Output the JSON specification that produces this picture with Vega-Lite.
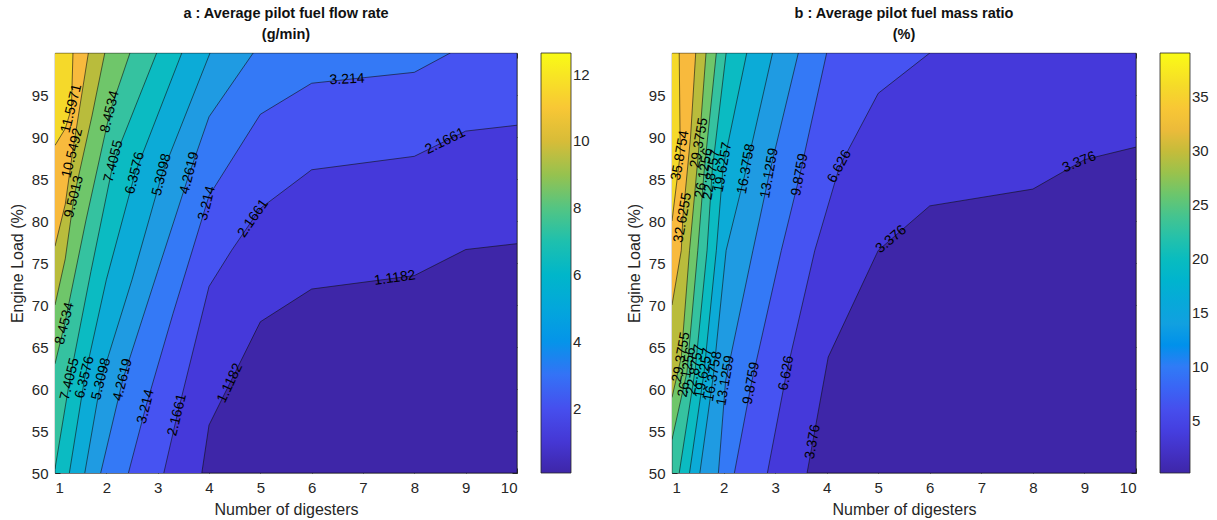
{
  "$schema": "https://vega.github.io/schema/vega-lite/v6.json",
  "background": "white",
  "padding": {"left": 8, "top": 5, "right": 5, "bottom": 5},
  "config": {
    "font": "Liberation Sans",
    "view": {"stroke": "#262626", "strokeWidth": 0.8},
    "axis": {"labelFontSize": 15, "titleFontSize": 16, "titleFontWeight": "normal", "labelColor": "#262626", "titleColor": "#262626", "domain": false, "grid": false, "tickColor": "#262626", "tickSize": -5, "labelPadding": 12, "titlePadding": 6},
    "title": {"fontSize": 14.5, "fontWeight": "bold", "color": "#111111", "anchor": "middle", "frame": "group", "offset": 10, "lineHeight": 21},
    "legend": {"labelFontSize": 15, "labelColor": "#262626", "gradientLength": 420, "gradientThickness": 30, "gradientStrokeColor": "#262626", "gradientStrokeWidth": 0.8, "offset": 23, "labelOffset": 6}
  },
  "spacing": 34,
  "resolve": {"scale": {"color": "independent"}, "legend": {"color": "independent"}},
  "hconcat": [
    {
      "width": 462,
      "height": 420,
      "title": {"text": ["a : Average pilot fuel flow rate", "(g/min)"]},
      "resolve": {"axis": {"x": "independent", "y": "independent"}},
      "layer": [
        {
          "data": {"values": [
            {"lev": 0.0703, "i": 0, "x": 1, "y": 50}, {"lev": 0.0703, "i": 1, "x": 10, "y": 50}, {"lev": 0.0703, "i": 2, "x": 10, "y": 100}, {"lev": 0.0703, "i": 3, "x": 1, "y": 100},
            {"lev": 1.1182, "i": 0, "x": 3.86, "y": 50}, {"lev": 1.1182, "i": 1, "x": 4, "y": 55.7}, {"lev": 1.1182, "i": 2, "x": 5, "y": 68}, {"lev": 1.1182, "i": 3, "x": 6, "y": 71.9}, {"lev": 1.1182, "i": 4, "x": 8, "y": 73.5}, {"lev": 1.1182, "i": 5, "x": 9, "y": 76.6}, {"lev": 1.1182, "i": 6, "x": 10, "y": 77.3}, {"lev": 1.1182, "i": 7, "x": 10, "y": 100}, {"lev": 1.1182, "i": 8, "x": 1, "y": 100}, {"lev": 1.1182, "i": 9, "x": 1, "y": 50},
            {"lev": 2.1661, "i": 0, "x": 3.12, "y": 50}, {"lev": 2.1661, "i": 1, "x": 3.38, "y": 56.9}, {"lev": 2.1661, "i": 2, "x": 4, "y": 72.2}, {"lev": 2.1661, "i": 3, "x": 4.44, "y": 76.5}, {"lev": 2.1661, "i": 4, "x": 5, "y": 81.5}, {"lev": 2.1661, "i": 5, "x": 6, "y": 86.1}, {"lev": 2.1661, "i": 6, "x": 8, "y": 87.7}, {"lev": 2.1661, "i": 7, "x": 9, "y": 90.7}, {"lev": 2.1661, "i": 8, "x": 10, "y": 91.4}, {"lev": 2.1661, "i": 9, "x": 10, "y": 100}, {"lev": 2.1661, "i": 10, "x": 1, "y": 100}, {"lev": 2.1661, "i": 11, "x": 1, "y": 50},
            {"lev": 3.214, "i": 0, "x": 2.43, "y": 50}, {"lev": 3.214, "i": 1, "x": 2.77, "y": 57.9}, {"lev": 3.214, "i": 2, "x": 3.3, "y": 69}, {"lev": 3.214, "i": 3, "x": 4, "y": 83}, {"lev": 3.214, "i": 4, "x": 5, "y": 92.7}, {"lev": 3.214, "i": 5, "x": 6, "y": 96.4}, {"lev": 3.214, "i": 6, "x": 8, "y": 97.7}, {"lev": 3.214, "i": 7, "x": 8.7, "y": 100}, {"lev": 3.214, "i": 8, "x": 1, "y": 100}, {"lev": 3.214, "i": 9, "x": 1, "y": 50},
            {"lev": 4.2619, "i": 0, "x": 1.89, "y": 50}, {"lev": 4.2619, "i": 1, "x": 2.32, "y": 61.1}, {"lev": 4.2619, "i": 2, "x": 3.0, "y": 74}, {"lev": 4.2619, "i": 3, "x": 3.62, "y": 85.7}, {"lev": 4.2619, "i": 4, "x": 4, "y": 92.4}, {"lev": 4.2619, "i": 5, "x": 4.86, "y": 100}, {"lev": 4.2619, "i": 6, "x": 1, "y": 100}, {"lev": 4.2619, "i": 7, "x": 1, "y": 50},
            {"lev": 5.3098, "i": 0, "x": 1.58, "y": 50}, {"lev": 5.3098, "i": 1, "x": 1.9, "y": 61.2}, {"lev": 5.3098, "i": 2, "x": 2.5, "y": 73}, {"lev": 5.3098, "i": 3, "x": 3.08, "y": 85.5}, {"lev": 5.3098, "i": 4, "x": 4.02, "y": 100}, {"lev": 5.3098, "i": 5, "x": 1, "y": 100}, {"lev": 5.3098, "i": 6, "x": 1, "y": 50},
            {"lev": 6.3576, "i": 0, "x": 1.28, "y": 50}, {"lev": 6.3576, "i": 1, "x": 1.58, "y": 61.4}, {"lev": 6.3576, "i": 2, "x": 2.0, "y": 73}, {"lev": 6.3576, "i": 3, "x": 2.56, "y": 85.7}, {"lev": 6.3576, "i": 4, "x": 3.47, "y": 100}, {"lev": 6.3576, "i": 5, "x": 1, "y": 100}, {"lev": 6.3576, "i": 6, "x": 1, "y": 50},
            {"lev": 7.4055, "i": 0, "x": 1, "y": 50.5}, {"lev": 7.4055, "i": 1, "x": 1.29, "y": 61.2}, {"lev": 7.4055, "i": 2, "x": 1.7, "y": 74}, {"lev": 7.4055, "i": 3, "x": 2.14, "y": 87.1}, {"lev": 7.4055, "i": 4, "x": 2.98, "y": 100}, {"lev": 7.4055, "i": 5, "x": 1, "y": 100},
            {"lev": 8.4534, "i": 0, "x": 1, "y": 63}, {"lev": 8.4534, "i": 1, "x": 1.19, "y": 67.8}, {"lev": 8.4534, "i": 2, "x": 1.6, "y": 80}, {"lev": 8.4534, "i": 3, "x": 2.07, "y": 93}, {"lev": 8.4534, "i": 4, "x": 2.46, "y": 100}, {"lev": 8.4534, "i": 5, "x": 1, "y": 100},
            {"lev": 9.5013, "i": 0, "x": 1, "y": 70}, {"lev": 9.5013, "i": 1, "x": 1.2, "y": 75.5}, {"lev": 9.5013, "i": 2, "x": 1.37, "y": 82.9}, {"lev": 9.5013, "i": 3, "x": 1.72, "y": 92.5}, {"lev": 9.5013, "i": 4, "x": 1.97, "y": 100}, {"lev": 9.5013, "i": 5, "x": 1, "y": 100},
            {"lev": 10.5492, "i": 0, "x": 1, "y": 77}, {"lev": 10.5492, "i": 1, "x": 1.2, "y": 82}, {"lev": 10.5492, "i": 2, "x": 1.34, "y": 88.1}, {"lev": 10.5492, "i": 3, "x": 1.65, "y": 100}, {"lev": 10.5492, "i": 4, "x": 1, "y": 100},
            {"lev": 11.5971, "i": 0, "x": 1, "y": 89}, {"lev": 11.5971, "i": 1, "x": 1.2, "y": 91}, {"lev": 11.5971, "i": 2, "x": 1.32, "y": 93.4}, {"lev": 11.5971, "i": 3, "x": 1.35, "y": 100}, {"lev": 11.5971, "i": 4, "x": 1, "y": 100}
          ]},
          "mark": {"type": "line", "filled": true, "stroke": "#111111", "strokeWidth": 0.6, "clip": true},
          "encoding": {
            "x": {"field": "x", "type": "quantitative", "scale": {"domain": [1, 10], "nice": false, "zero": false}, "axis": {"values": [1, 2, 3, 4, 5, 6, 7, 8, 9, 10], "title": "Number of digesters"}},
            "y": {"field": "y", "type": "quantitative", "scale": {"domain": [50, 100], "nice": false, "zero": false}, "axis": {"values": [50, 55, 60, 65, 70, 75, 80, 85, 90, 95], "title": "Engine Load (%)"}},
            "order": {"field": "i", "type": "quantitative"},
            "color": {"field": "lev", "type": "quantitative",
              "scale": {"type": "linear", "nice": false, "zero": false,
                "domain": [0.0703, 1.1182, 2.1661, 3.214, 4.2619, 5.3098, 6.3576, 7.4055, 8.4534, 9.5013, 10.5492, 11.5971, 12.645],
                "range": ["#3e26a8", "#4539da", "#4653f2", "#3479f6", "#1f9be2", "#0cabd7", "#0bbbc2", "#35c2a0", "#6fc66a", "#b9bc3c", "#f8ba3d", "#f5d92a", "#f9fb15"]},
              "legend": {"values": [2, 4, 6, 8, 10, 12], "title": null}}
          }
        },
        {
          "data": {"values": [
            {"t": "11.5971", "x": 1.32, "y": 93.4}, {"t": "10.5492", "x": 1.34, "y": 88.1}, {"t": "9.5013", "x": 1.37, "y": 82.9},
            {"t": "8.4534", "x": 2.07, "y": 93}, {"t": "7.4055", "x": 2.14, "y": 87.1}, {"t": "6.3576", "x": 2.56, "y": 85.7}, {"t": "5.3098", "x": 3.08, "y": 85.5}, {"t": "4.2619", "x": 3.62, "y": 85.7}, {"t": "3.214", "x": 3.96, "y": 82.1},
            {"t": "8.4534", "x": 1.19, "y": 67.8}, {"t": "7.4055", "x": 1.29, "y": 61.2}, {"t": "6.3576", "x": 1.58, "y": 61.4}, {"t": "5.3098", "x": 1.9, "y": 61.2}, {"t": "4.2619", "x": 2.32, "y": 61.1}, {"t": "3.214", "x": 2.77, "y": 57.9}, {"t": "2.1661", "x": 3.38, "y": 56.9}
          ]},
          "mark": {"type": "text", "angle": -76, "fontSize": 14, "color": "#000000"},
          "encoding": {
            "x": {"field": "x", "type": "quantitative", "axis": {"orient": "top", "labels": false, "title": null, "values": [1, 2, 3, 4, 5, 6, 7, 8, 9, 10]}},
            "y": {"field": "y", "type": "quantitative", "axis": {"orient": "right", "labels": false, "title": null, "values": [50, 55, 60, 65, 70, 75, 80, 85, 90, 95]}},
            "text": {"field": "t"}}
        },
        {
          "data": {"values": [{"t": "2.1661", "x": 4.86, "y": 80.3}]},
          "mark": {"type": "text", "angle": -55, "fontSize": 14, "color": "#000000"},
          "encoding": {"x": {"field": "x", "type": "quantitative", "axis": null}, "y": {"field": "y", "type": "quantitative", "axis": null}, "text": {"field": "t"}}
        },
        {
          "data": {"values": [{"t": "1.1182", "x": 4.41, "y": 60.7}]},
          "mark": {"type": "text", "angle": -65, "fontSize": 14, "color": "#000000"},
          "encoding": {"x": {"field": "x", "type": "quantitative", "axis": null}, "y": {"field": "y", "type": "quantitative", "axis": null}, "text": {"field": "t"}}
        },
        {
          "data": {"values": [{"t": "3.214", "x": 6.69, "y": 96.85}]},
          "mark": {"type": "text", "angle": -3, "fontSize": 14, "color": "#000000"},
          "encoding": {"x": {"field": "x", "type": "quantitative", "axis": null}, "y": {"field": "y", "type": "quantitative", "axis": null}, "text": {"field": "t"}}
        },
        {
          "data": {"values": [{"t": "2.1661", "x": 8.6, "y": 89.5}]},
          "mark": {"type": "text", "angle": -26, "fontSize": 14, "color": "#000000"},
          "encoding": {"x": {"field": "x", "type": "quantitative", "axis": null}, "y": {"field": "y", "type": "quantitative", "axis": null}, "text": {"field": "t"}}
        },
        {
          "data": {"values": [{"t": "1.1182", "x": 7.62, "y": 73.2}]},
          "mark": {"type": "text", "angle": -8, "fontSize": 14, "color": "#000000"},
          "encoding": {"x": {"field": "x", "type": "quantitative", "axis": null}, "y": {"field": "y", "type": "quantitative", "axis": null}, "text": {"field": "t"}}
        }
      ]
    },
    {
      "width": 464,
      "height": 420,
      "title": {"text": ["b : Average pilot fuel mass ratio", "(%)"]},
      "resolve": {"axis": {"x": "independent", "y": "independent"}},
      "layer": [
        {
          "data": {"values": [
            {"lev": 0.126, "i": 0, "x": 1, "y": 50}, {"lev": 0.126, "i": 1, "x": 10, "y": 50}, {"lev": 0.126, "i": 2, "x": 10, "y": 100}, {"lev": 0.126, "i": 3, "x": 1, "y": 100},
            {"lev": 3.376, "i": 0, "x": 3.62, "y": 50}, {"lev": 3.376, "i": 1, "x": 4.03, "y": 63.8}, {"lev": 3.376, "i": 2, "x": 5, "y": 76.5}, {"lev": 3.376, "i": 3, "x": 6, "y": 81.8}, {"lev": 3.376, "i": 4, "x": 8, "y": 83.8}, {"lev": 3.376, "i": 5, "x": 9, "y": 87.3}, {"lev": 3.376, "i": 6, "x": 10, "y": 88.8}, {"lev": 3.376, "i": 7, "x": 10, "y": 100}, {"lev": 3.376, "i": 8, "x": 1, "y": 100}, {"lev": 3.376, "i": 9, "x": 1, "y": 50},
            {"lev": 6.626, "i": 0, "x": 2.85, "y": 50}, {"lev": 6.626, "i": 1, "x": 3.22, "y": 61.9}, {"lev": 6.626, "i": 2, "x": 3.77, "y": 76.5}, {"lev": 6.626, "i": 3, "x": 4.25, "y": 86.5}, {"lev": 6.626, "i": 4, "x": 5, "y": 95.2}, {"lev": 6.626, "i": 5, "x": 6, "y": 100}, {"lev": 6.626, "i": 6, "x": 1, "y": 100}, {"lev": 6.626, "i": 7, "x": 1, "y": 50},
            {"lev": 9.8759, "i": 0, "x": 2.21, "y": 50}, {"lev": 9.8759, "i": 1, "x": 2.54, "y": 60.7}, {"lev": 9.8759, "i": 2, "x": 3.12, "y": 76.5}, {"lev": 9.8759, "i": 3, "x": 3.48, "y": 85.5}, {"lev": 9.8759, "i": 4, "x": 4.0, "y": 100}, {"lev": 9.8759, "i": 5, "x": 1, "y": 100}, {"lev": 9.8759, "i": 6, "x": 1, "y": 50},
            {"lev": 13.1259, "i": 0, "x": 1.9, "y": 50}, {"lev": 13.1259, "i": 1, "x": 2.04, "y": 61}, {"lev": 13.1259, "i": 2, "x": 2.57, "y": 76.5}, {"lev": 13.1259, "i": 3, "x": 2.89, "y": 85.7}, {"lev": 13.1259, "i": 4, "x": 3.45, "y": 100}, {"lev": 13.1259, "i": 5, "x": 1, "y": 100}, {"lev": 13.1259, "i": 6, "x": 1, "y": 50},
            {"lev": 16.3758, "i": 0, "x": 1.54, "y": 50}, {"lev": 16.3758, "i": 1, "x": 1.8, "y": 61.5}, {"lev": 16.3758, "i": 2, "x": 2.05, "y": 76.5}, {"lev": 16.3758, "i": 3, "x": 2.44, "y": 86.2}, {"lev": 16.3758, "i": 4, "x": 2.95, "y": 100}, {"lev": 16.3758, "i": 5, "x": 1, "y": 100}, {"lev": 16.3758, "i": 6, "x": 1, "y": 50},
            {"lev": 19.6257, "i": 0, "x": 1.34, "y": 50}, {"lev": 19.6257, "i": 1, "x": 1.62, "y": 61.9}, {"lev": 19.6257, "i": 2, "x": 1.86, "y": 76.5}, {"lev": 19.6257, "i": 3, "x": 1.99, "y": 86.4}, {"lev": 19.6257, "i": 4, "x": 2.45, "y": 100}, {"lev": 19.6257, "i": 5, "x": 1, "y": 100}, {"lev": 19.6257, "i": 6, "x": 1, "y": 50},
            {"lev": 22.8757, "i": 0, "x": 1.14, "y": 50}, {"lev": 22.8757, "i": 1, "x": 1.45, "y": 62.3}, {"lev": 22.8757, "i": 2, "x": 1.68, "y": 76.5}, {"lev": 22.8757, "i": 3, "x": 1.78, "y": 86}, {"lev": 22.8757, "i": 4, "x": 2.05, "y": 100}, {"lev": 22.8757, "i": 5, "x": 1, "y": 100}, {"lev": 22.8757, "i": 6, "x": 1, "y": 50},
            {"lev": 26.1256, "i": 0, "x": 1, "y": 54}, {"lev": 26.1256, "i": 1, "x": 1.29, "y": 62}, {"lev": 26.1256, "i": 2, "x": 1.5, "y": 76.5}, {"lev": 26.1256, "i": 3, "x": 1.62, "y": 85.7}, {"lev": 26.1256, "i": 4, "x": 1.86, "y": 100}, {"lev": 26.1256, "i": 5, "x": 1, "y": 100},
            {"lev": 29.3755, "i": 0, "x": 1, "y": 59}, {"lev": 29.3755, "i": 1, "x": 1.18, "y": 63.8}, {"lev": 29.3755, "i": 2, "x": 1.34, "y": 76.5}, {"lev": 29.3755, "i": 3, "x": 1.53, "y": 89.3}, {"lev": 29.3755, "i": 4, "x": 1.66, "y": 100}, {"lev": 29.3755, "i": 5, "x": 1, "y": 100},
            {"lev": 32.6255, "i": 0, "x": 1, "y": 70}, {"lev": 32.6255, "i": 1, "x": 1.18, "y": 76.5}, {"lev": 32.6255, "i": 2, "x": 1.21, "y": 80.4}, {"lev": 32.6255, "i": 3, "x": 1.36, "y": 90}, {"lev": 32.6255, "i": 4, "x": 1.46, "y": 100}, {"lev": 32.6255, "i": 5, "x": 1, "y": 100},
            {"lev": 35.8754, "i": 0, "x": 1, "y": 80}, {"lev": 35.8754, "i": 1, "x": 1.1, "y": 85}, {"lev": 35.8754, "i": 2, "x": 1.16, "y": 88}, {"lev": 35.8754, "i": 3, "x": 1.14, "y": 100}, {"lev": 35.8754, "i": 4, "x": 1, "y": 100}
          ]},
          "mark": {"type": "line", "filled": true, "stroke": "#111111", "strokeWidth": 0.6, "clip": true},
          "encoding": {
            "x": {"field": "x", "type": "quantitative", "scale": {"domain": [1, 10], "nice": false, "zero": false}, "axis": {"values": [1, 2, 3, 4, 5, 6, 7, 8, 9, 10], "title": "Number of digesters"}},
            "y": {"field": "y", "type": "quantitative", "scale": {"domain": [50, 100], "nice": false, "zero": false}, "axis": {"values": [50, 55, 60, 65, 70, 75, 80, 85, 90, 95], "title": "Engine Load (%)"}},
            "order": {"field": "i", "type": "quantitative"},
            "color": {"field": "lev", "type": "quantitative",
              "scale": {"type": "linear", "nice": false, "zero": false,
                "domain": [0.126, 3.376, 6.626, 9.8759, 13.1259, 16.3758, 19.6257, 22.8757, 26.1256, 29.3755, 32.6255, 35.8754, 39.1253],
                "range": ["#3e26a8", "#4539da", "#4653f2", "#3479f6", "#1f9be2", "#0cabd7", "#0bbbc2", "#35c2a0", "#6fc66a", "#b9bc3c", "#f8ba3d", "#f5d92a", "#f9fb15"]},
              "legend": {"values": [5, 10, 15, 20, 25, 30, 35], "title": null}}
          }
        },
        {
          "data": {"values": [
            {"t": "35.8754", "x": 1.16, "y": 87.8}, {"t": "32.6255", "x": 1.21, "y": 80.4}, {"t": "29.3755", "x": 1.53, "y": 89.3}, {"t": "26.1256", "x": 1.62, "y": 85.7}, {"t": "22.8757", "x": 1.77, "y": 85.5}, {"t": "19.6257", "x": 1.99, "y": 86.4}, {"t": "16.3758", "x": 2.44, "y": 86.2}, {"t": "13.1259", "x": 2.89, "y": 85.7}, {"t": "9.8759", "x": 3.48, "y": 85.5},
            {"t": "29.3755", "x": 1.18, "y": 63.8}, {"t": "26.1256", "x": 1.29, "y": 62}, {"t": "22.8757", "x": 1.45, "y": 62.3}, {"t": "19.6257", "x": 1.62, "y": 61.9}, {"t": "16.3758", "x": 1.8, "y": 61.5}, {"t": "13.1259", "x": 2.04, "y": 61}, {"t": "9.8759", "x": 2.54, "y": 60.7}, {"t": "6.626", "x": 3.22, "y": 61.9}, {"t": "3.376", "x": 3.73, "y": 53.7}
          ]},
          "mark": {"type": "text", "angle": -80, "fontSize": 14, "color": "#000000"},
          "encoding": {
            "x": {"field": "x", "type": "quantitative", "axis": {"orient": "top", "labels": false, "title": null, "values": [1, 2, 3, 4, 5, 6, 7, 8, 9, 10]}},
            "y": {"field": "y", "type": "quantitative", "axis": {"orient": "right", "labels": false, "title": null, "values": [50, 55, 60, 65, 70, 75, 80, 85, 90, 95]}},
            "text": {"field": "t"}}
        },
        {
          "data": {"values": [{"t": "6.626", "x": 4.25, "y": 86.5}]},
          "mark": {"type": "text", "angle": -62, "fontSize": 14, "color": "#000000"},
          "encoding": {"x": {"field": "x", "type": "quantitative", "axis": null}, "y": {"field": "y", "type": "quantitative", "axis": null}, "text": {"field": "t"}}
        },
        {
          "data": {"values": [{"t": "3.376", "x": 5.25, "y": 77.8}]},
          "mark": {"type": "text", "angle": -40, "fontSize": 14, "color": "#000000"},
          "encoding": {"x": {"field": "x", "type": "quantitative", "axis": null}, "y": {"field": "y", "type": "quantitative", "axis": null}, "text": {"field": "t"}}
        },
        {
          "data": {"values": [{"t": "3.376", "x": 8.9, "y": 87.0}]},
          "mark": {"type": "text", "angle": -22, "fontSize": 14, "color": "#000000"},
          "encoding": {"x": {"field": "x", "type": "quantitative", "axis": null}, "y": {"field": "y", "type": "quantitative", "axis": null}, "text": {"field": "t"}}
        }
      ]
    }
  ]
}
